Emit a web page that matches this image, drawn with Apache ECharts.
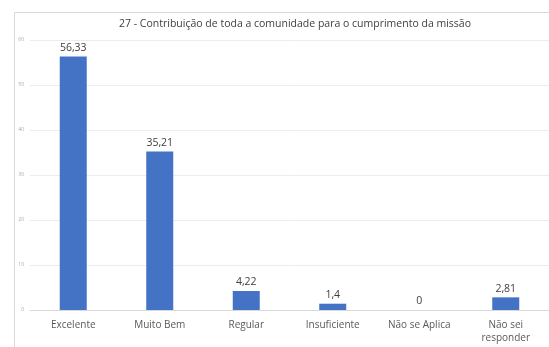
<!DOCTYPE html>
<html>
<head>
	<meta charset="utf-8">
	<title>27 - Contribuição</title>
	<style>
		body { margin: 0; background: #fff; }
		#box { width: 549px; height: 347px; }
	</style>
</head>
<body>
	<div id="box"></div>
</body>
<script type="text/javascript" src="https://cdn.jsdelivr.net/npm/echarts@6/dist/echarts.min.js"></script>
<script type="text/javascript">
	var categories = ['Excelente', 'Muito Bem', 'Regular', 'Insuficiente', 'Não se Aplica', 'Não sei\nresponder'];
	var values = [56.33, 35.21, 4.22, 1.4, 0, 2.81];
	var valueLabels = ['56,33', '35,21', '4,22', '1,4', '0', '2,81'];
	var yTicks = [0, 10, 20, 30, 40, 50, 60];

	var myChart = echarts.init(document.getElementById('box'));
	myChart.setOption({
		animation: false,
		title: {
			text: '27 - Contribuição de toda a comunidade para o cumprimento da missão',
			left: 290,
			textAlign: 'center',
			top: 14,
			textStyle: { fontFamily: 'Open Sans', fontSize: 10.5, fontWeight: 'normal', color: '#404040' }
		},
		graphic: [{
			type: 'rect',
			shape: { x: 14.5, y: 12.5, width: 560, height: 340 },
			style: { fill: 'none', stroke: '#d9d9d9', lineWidth: 1 },
			z: -1
		}],
		grid: { left: 30, top: 40, width: 524, bottom: 37 },
		xAxis: {
			type: 'category',
			data: categories,
			axisTick: { show: false },
			axisLine: { lineStyle: { color: '#d9d9d9' } },
			axisLabel: {
				interval: 0, margin: 9, color: '#595959', lineHeight: 13,
				fontFamily: 'Open Sans', fontSize: 10
			}
		},
		yAxis: {
			type: 'value',
			min: 0, max: 60, interval: 10,
			axisLabel: {
				color: '#aaa', fontSize: 5, fontFamily: 'Open Sans', margin: 6,
				formatter: function (v) { return yTicks.indexOf(v) >= 0 ? String(v) : ''; }
			},
			splitLine: { lineStyle: { color: '#ececec' } }
		},
		series: [{
			type: 'bar',
			data: values,
			barWidth: 27,
			itemStyle: { color: '#4472C4' },
			label: {
				show: true, position: 'top', distance: 3,
				color: '#404040', fontFamily: 'Open Sans', fontSize: 10.5,
				formatter: function (p) { return valueLabels[p.dataIndex]; }
			}
		}]
	});
</script>
</html>
